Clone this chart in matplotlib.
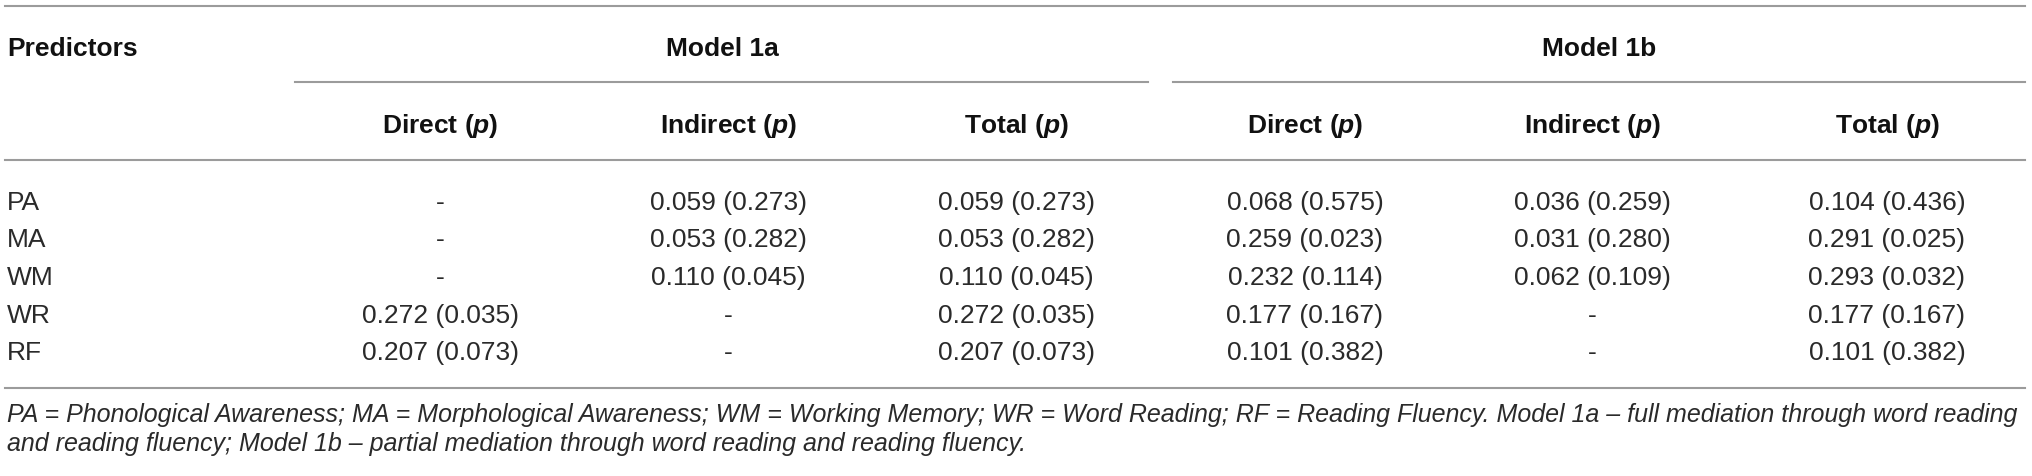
import matplotlib
matplotlib.use("Agg")
import matplotlib.pyplot as plt
from matplotlib.lines import Line2D

plt.rcParams['font.family'] = ['Liberation Sans', 'DejaVu Sans']
plt.rcParams['mathtext.fontset'] = 'custom'
plt.rcParams['mathtext.bfit'] = 'Liberation Sans:italic:bold'
plt.rcParams['mathtext.it'] = 'Liberation Sans:italic'
plt.rcParams['mathtext.rm'] = 'Liberation Sans'

# table content
predictors = ["PA", "MA", "WM", "WR", "RF"]
models = ["Model 1a", "Model 1b"]
effects = ["Direct", "Indirect", "Total"]

direct_1a = [None, None, None, (0.272, 0.035), (0.207, 0.073)]
indirect_1a = [(0.059, 0.273), (0.053, 0.282), (0.110, 0.045), None, None]
total_1a = [(0.059, 0.273), (0.053, 0.282), (0.110, 0.045), (0.272, 0.035), (0.207, 0.073)]
direct_1b = [(0.068, 0.575), (0.259, 0.023), (0.232, 0.114), (0.177, 0.167), (0.101, 0.382)]
indirect_1b = [(0.036, 0.259), (0.031, 0.280), (0.062, 0.109), None, None]
total_1b = [(0.104, 0.436), (0.291, 0.025), (0.293, 0.032), (0.177, 0.167), (0.101, 0.382)]

footnote = [
    "PA = Phonological Awareness; MA = Morphological Awareness; WM = Working Memory; "
    "WR = Word Reading; RF = Reading Fluency. Model 1a \u2013 full mediation through word reading",
    "and reading fluency; Model 1b \u2013 partial mediation through word reading and reading fluency.",
]

W, H = 2032, 477
fig = plt.figure(figsize=(W / 100, H / 100), dpi=100)


def fx(x):
    return x / W


def fy(y):
    return 1 - y / H


def hline(y, x0, x1):
    fig.add_artist(Line2D([fx(x0), fx(x1)], [fy(y), fy(y)], color="#9b9b9b", lw=1.5))


def cell(v):
    if v is None:
        return "-"
    return f"{v[0]:.3f} ({v[1]:.3f})"


col_x = [440, 728, 1016, 1305, 1592, 1887]
row_y = [210, 247, 285, 323, 360]
columns = [direct_1a, indirect_1a, total_1a, direct_1b, indirect_1b, total_1b]

# rules
hline(7, 5, 2025)
hline(83, 295, 1148)
hline(83, 1173, 2025)
hline(161, 5, 2025)
hline(389, 5, 2025)

# header
hdr = dict(fontsize=19, fontweight="bold", color="#111111", va="baseline")
fig.text(fx(7), fy(56), "Predictors", ha="left", **hdr)
fig.text(fx(722), fy(56), models[0], ha="center", **hdr)
fig.text(fx(1599), fy(56), models[1], ha="center", **hdr)
for i, x in enumerate(col_x):
    label = effects[i % 3] + r" ($\mathbfit{p}$)"
    fig.text(fx(x), fy(133), label, ha="center", **hdr)

# body
body = dict(fontsize=19, color="#2a2a2a", va="baseline")
for r, name in enumerate(predictors):
    fig.text(fx(7), fy(row_y[r]), name, ha="left", **body)
    for c, col in enumerate(columns):
        fig.text(fx(col_x[c]), fy(row_y[r]), cell(col[r]), ha="center", **body)

# footnote
fig.text(fx(7), fy(422), footnote[0], ha="left", va="baseline", fontsize=18,
         style="italic", color="#2a2a2a")
fig.text(fx(7), fy(451), footnote[1], ha="left", va="baseline", fontsize=18,
         style="italic", color="#2a2a2a")

fig.savefig("out.png", dpi=100, facecolor="white")
